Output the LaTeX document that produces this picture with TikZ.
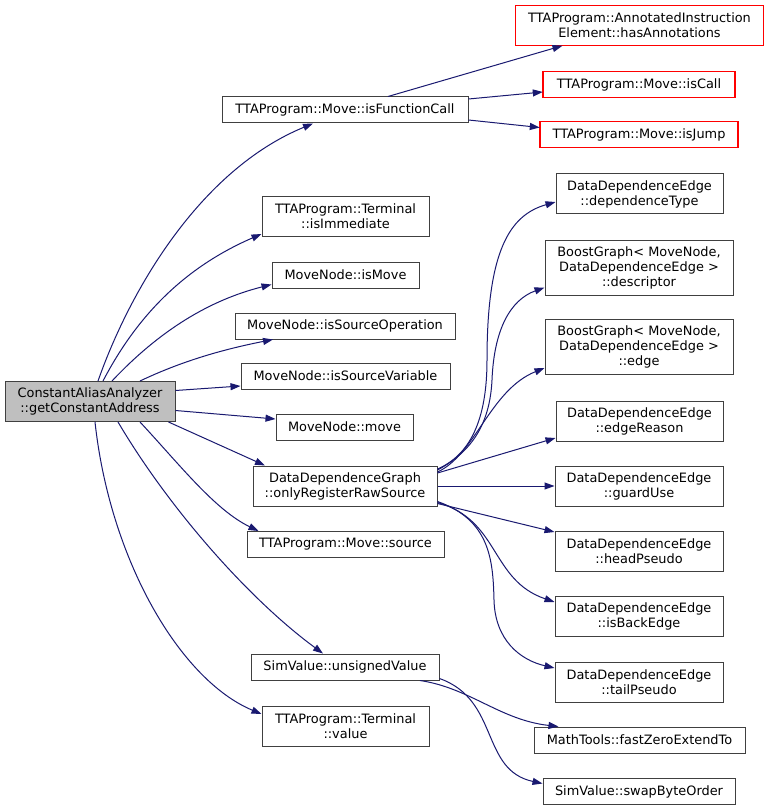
\documentclass[tikz,border=0pt]{standalone}
\usepackage{fontspec}
\setmainfont{DejaVu Sans}
\usetikzlibrary{arrows.meta}
\definecolor{edgeblue}{HTML}{191970}
\definecolor{boxgray}{HTML}{BFBFBF}
\definecolor{boxline}{HTML}{404040}
\definecolor{boxred}{HTML}{FF0000}
\tikzset{
  box/.style={draw=boxline, line width=1pt, fill=white, inner sep=0pt, align=center,
    font=\fontsize{12.9}{15}\selectfont},
  redbox/.style={draw=none, fill=white, inner sep=0pt, align=center,
    font=\fontsize{12.9}{15}\selectfont},
  redframe/.style={draw=boxred, line width=1.5pt},
  mainbox/.style={box, fill=boxgray},
  edge/.style={draw=edgeblue, line width=1pt, -{Triangle[length=10pt,width=7pt]}},
}
\begin{document}
\begin{tikzpicture}[x=1pt,y=-1pt]
\useasboundingbox[fill=white] (0,0) rectangle (768,810);
% nodes
\node[mainbox, minimum width=170, minimum height=40] (main) at (90,401.5) {ConstantAliasAnalyzer\\::getConstantAddress};
\node[box, minimum width=246, minimum height=26] (ifc) at (345,110) {TTAProgram::Move::isFunctionCall};
\node[redbox, minimum width=248, minimum height=40] (hasann) at (639.5,25.5) {TTAProgram::AnnotatedInstruction\\Element::hasAnnotations};
\node[redbox, minimum width=192, minimum height=26] (iscall) at (639,84.5) {TTAProgram::Move::isCall};
\node[redbox, minimum width=198, minimum height=26] (isjump) at (639,134.5) {TTAProgram::Move::isJump};
\draw[redframe] (hasann.north west) rectangle (hasann.south east);
\draw[redframe] (iscall.north west) rectangle (iscall.south east);
\draw[redframe] (isjump.north west) rectangle (isjump.south east);
\node[box, minimum width=167, minimum height=40] (isimm) at (345.5,216.5) {TTAProgram::Terminal\\::isImmediate};
\node[box, minimum width=147, minimum height=26] (ismove) at (345.5,275) {MoveNode::isMove};
\node[box, minimum width=220, minimum height=26] (srcop) at (345,326) {MoveNode::isSourceOperation};
\node[box, minimum width=209, minimum height=26] (srcvar) at (345.5,376) {MoveNode::isSourceVariable};
\node[box, minimum width=137, minimum height=26] (move) at (344.5,427) {MoveNode::move};
\node[box, minimum width=184, minimum height=40] (ddg) at (345,486) {DataDependenceGraph\\::onlyRegisterRawSource};
\node[box, minimum width=197, minimum height=26] (source) at (345.5,544.5) {TTAProgram::Move::source};
\node[box, minimum width=188, minimum height=26] (unsigned) at (345,667) {SimValue::unsignedValue};
\node[box, minimum width=167, minimum height=40] (tvalue) at (345.5,726) {TTAProgram::Terminal\\::value};
\node[box, minimum width=167, minimum height=40] (deptype) at (639.5,194) {DataDependenceEdge\\::dependenceType};
\node[box, minimum width=188, minimum height=55] (desc) at (639,267.5) {BoostGraph< MoveNode,\\DataDependenceEdge >\\::descriptor};
\node[box, minimum width=188, minimum height=55] (edgen) at (639,347) {BoostGraph< MoveNode,\\DataDependenceEdge >\\::edge};
\node[box, minimum width=167, minimum height=40] (reason) at (639.5,421) {DataDependenceEdge\\::edgeReason};
\node[box, minimum width=168, minimum height=40] (guard) at (639,486) {DataDependenceEdge\\::guardUse};
\node[box, minimum width=168, minimum height=40] (head) at (639,551) {DataDependenceEdge\\::headPseudo};
\node[box, minimum width=168, minimum height=40] (back) at (639,616) {DataDependenceEdge\\::isBackEdge};
\node[box, minimum width=168, minimum height=40] (tail) at (639,682) {DataDependenceEdge\\::tailPseudo};
\node[box, minimum width=211, minimum height=26] (fzero) at (639.5,740) {MathTools::fastZeroExtendTo};
\node[box, minimum width=192, minimum height=26] (swap) at (639,791.5) {SimValue::swapByteOrder};
% edges from main
\draw[edge] ([xshift=8]main.north) .. controls (130,290) and (200,170) .. ([xshift=-32]ifc.south);
\draw[edge] ([xshift=13]main.north) .. controls (140,310) and (190,265) .. ([yshift=3]isimm.south west);
\draw[edge] ([xshift=22]main.north) .. controls (160,330) and (210,300) .. ([yshift=4]ismove.south west);
\draw[edge] ([xshift=50]main.north) .. controls (180,362) and (220,350) .. ([xshift=-72]srcop.south);
\draw[edge] ([yshift=11]main.east) -- ([yshift=-10]srcvar.west);
\draw[edge] ([yshift=-9]main.east) -- ([yshift=8]move.west);
\draw[edge] ([xshift=-7]main.south east) -- ([xshift=-80]ddg.north);
\draw[edge] ([xshift=50]main.south) .. controls (180,465) and (215,510) .. ([xshift=-87]source.north);
\draw[edge] ([xshift=28]main.south) .. controls (170,510) and (250,600) .. ([xshift=-22]unsigned.north);
\draw[edge] ([xshift=5]main.south) .. controls (110,560) and (180,680) .. ([yshift=12]tvalue.west);
% edges from isFunctionCall
\draw[edge] ([xshift=43]ifc.north) -- ([xshift=-77]hasann.south);
\draw[edge] ([yshift=11]ifc.east) -- ([yshift=-7.5]iscall.west);
\draw[edge] ([yshift=-10]ifc.east) -- ([yshift=7]isjump.west);
% edges from onlyRegisterRawSource
\draw[edge] ([yshift=17]ddg.east) .. controls (470,455) and (487,420) .. (487,360) .. controls (487,250) and (510,215) .. ([yshift=-8]deptype.west);
\draw[edge] ([yshift=16]ddg.east) .. controls (475,450) and (490,420) .. (492,380) .. controls (494,330) and (510,300) .. ([yshift=-20]desc.west);
\draw[edge] ([yshift=14]ddg.east) .. controls (475,455) and (490,390) .. ([yshift=-21]edgen.west);
\draw[edge] ([yshift=13]ddg.east) -- ([yshift=-17]reason.west);
\draw[edge] (ddg.east) -- (guard.west);
\draw[edge] ([yshift=3]ddg.south east) -- ([yshift=19]head.west);
\draw[edge] ([yshift=4]ddg.south east) .. controls (500,520) and (490,580) .. ([yshift=14]back.west);
\draw[edge] ([yshift=5]ddg.south east) .. controls (490,520) and (493,560) .. (494,600) .. controls (495,640) and (520,660) .. ([yshift=14]tail.west);
% edges from unsignedValue
\draw[edge] ([xshift=75]unsigned.south) .. controls (470,688) and (500,720) .. ([xshift=-81]fzero.north);
\draw[edge] ([yshift=2]unsigned.south east) .. controls (500,700) and (480,770) .. ([yshift=8]swap.west);
\end{tikzpicture}
\end{document}
